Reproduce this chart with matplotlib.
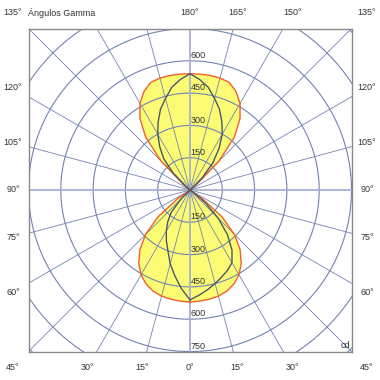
import numpy as np
import matplotlib as mpl
mpl.use('Agg')
import matplotlib.pyplot as plt

# gamma angles (0 = down, 180 = up), step 5 deg
gamma = list(range(0, 185, 5))

# C0/C180 plane (yellow fill, red outline), same on both sides
c0 = [520, 518, 515, 510, 500, 482, 455, 415, 362, 292, 195, 70, 0,
      0, 0, 0, 0, 0, 0, 0, 0, 0, 0, 0, 0,
      0, 40, 190, 320, 405, 465, 505, 532, 538, 540, 540, 540]
c180 = c0

# C90 (right) / C270 (left) plane, dark line
c90 = [510, 490, 470, 450, 430, 412, 390, 340, 270, 185, 95, 20, 0,
       0, 0, 0, 0, 0, 0, 0, 0, 0, 0, 0, 0,
       0, 10, 80, 165, 235, 300, 350, 400, 440, 485, 515, 540]
c270 = [510, 460, 405, 355, 300, 260, 220, 180, 135, 60, 0, 0, 0,
        0, 0, 0, 0, 0, 0, 0, 0, 0, 0, 0, 0,
        0, 20, 110, 190, 245, 300, 350, 400, 440, 485, 515, 540]

rings = [150, 300, 450, 600, 750, 900, 1050]
ring_labels_top = [150, 300, 450, 600]
ring_labels_bottom = [150, 300, 450, 600, 750]

grid_col = '#7383b2'
txt_col = '#333333'
plt.rcParams['font.family'] = ['Liberation Sans', 'DejaVu Sans']


def to_xy(g, vals, side):
	g = np.radians(np.array(g, dtype=float))
	v = np.array(vals, dtype=float)
	return side * v * np.sin(g), -v * np.cos(g)


def main():
	fig = plt.figure(figsize=(3.8, 3.8), dpi=100)
	ax = fig.add_axes([0.075, 0.075, 0.85, 0.85])
	ax.set_xlim(-750, 750)
	ax.set_ylim(-750, 750)
	ax.set_aspect('equal')
	ax.set_xticks([])
	ax.set_yticks([])
	for s in ax.spines.values():
		s.set_color('#8a8a8a')
		s.set_linewidth(1.0)

	# closed curves: right side 0->180, left side 180->0
	xr, yr = to_xy(gamma, c0, 1)
	xl, yl = to_xy(gamma[::-1], c180[::-1], -1)
	xa = np.concatenate([xr, xl])
	ya = np.concatenate([yr, yl])
	ax.fill(xa, ya, color='#fcfc74', zorder=1, lw=0)

	# grid
	t = np.linspace(0, 2 * np.pi, 721)
	for r in rings:
		ax.plot(r * np.cos(t), r * np.sin(t), color=grid_col, lw=0.8, zorder=2)
	for a in range(0, 360, 15):
		ar = np.radians(a)
		if a % 90 == 0:
			ax.plot([0, 1200 * np.sin(ar)], [0, -1200 * np.cos(ar)],
				color='#a8b1d0', lw=1.3, zorder=2)
		else:
			ax.plot([0, 1200 * np.sin(ar)], [0, -1200 * np.cos(ar)],
				color=grid_col, lw=0.6, zorder=2)

	ax.plot(xa, ya, color='#f2602a', lw=1.0, zorder=3)

	xr, yr = to_xy(gamma, c90, 1)
	xl, yl = to_xy(gamma[::-1], c270[::-1], -1)
	ax.plot(np.concatenate([xr, xl]), np.concatenate([yr, yl]),
		color='#4a5866', lw=1.0, zorder=4)

	# ring labels
	for r in ring_labels_top:
		ax.text(3, r + 4, str(r), fontsize=6.5, color=txt_col,
			ha='left', va='bottom', zorder=5)
	for r in ring_labels_bottom:
		ax.text(3, -r + 4, str(r), fontsize=6.5, color=txt_col,
			ha='left', va='bottom', zorder=5)

	# angle labels around the frame
	L = 822
	for side in (1, -1):
		for g in range(0, 181, 15):
			if side == -1 and g in (150, 165, 180, 0):
				continue
			gr = np.radians(g)
			x, y = side * np.sin(gr), -np.cos(gr)
			k = L / max(abs(x), abs(y))
			ax.text(k * x, k * y, '%d°' % g, fontsize=6.5, color=txt_col,
				ha='center', va='center', clip_on=False)
	ax.text(-752, L, 'Ángulos Gamma', fontsize=6.5, color=txt_col,
		ha='left', va='center', clip_on=False)
	ax.text(742, -742, 'cd', fontsize=6.5, color=txt_col,
		ha='right', va='bottom', zorder=5)

	plt.savefig('out.png', dpi=100)


if __name__ == '__main__':
	main()
